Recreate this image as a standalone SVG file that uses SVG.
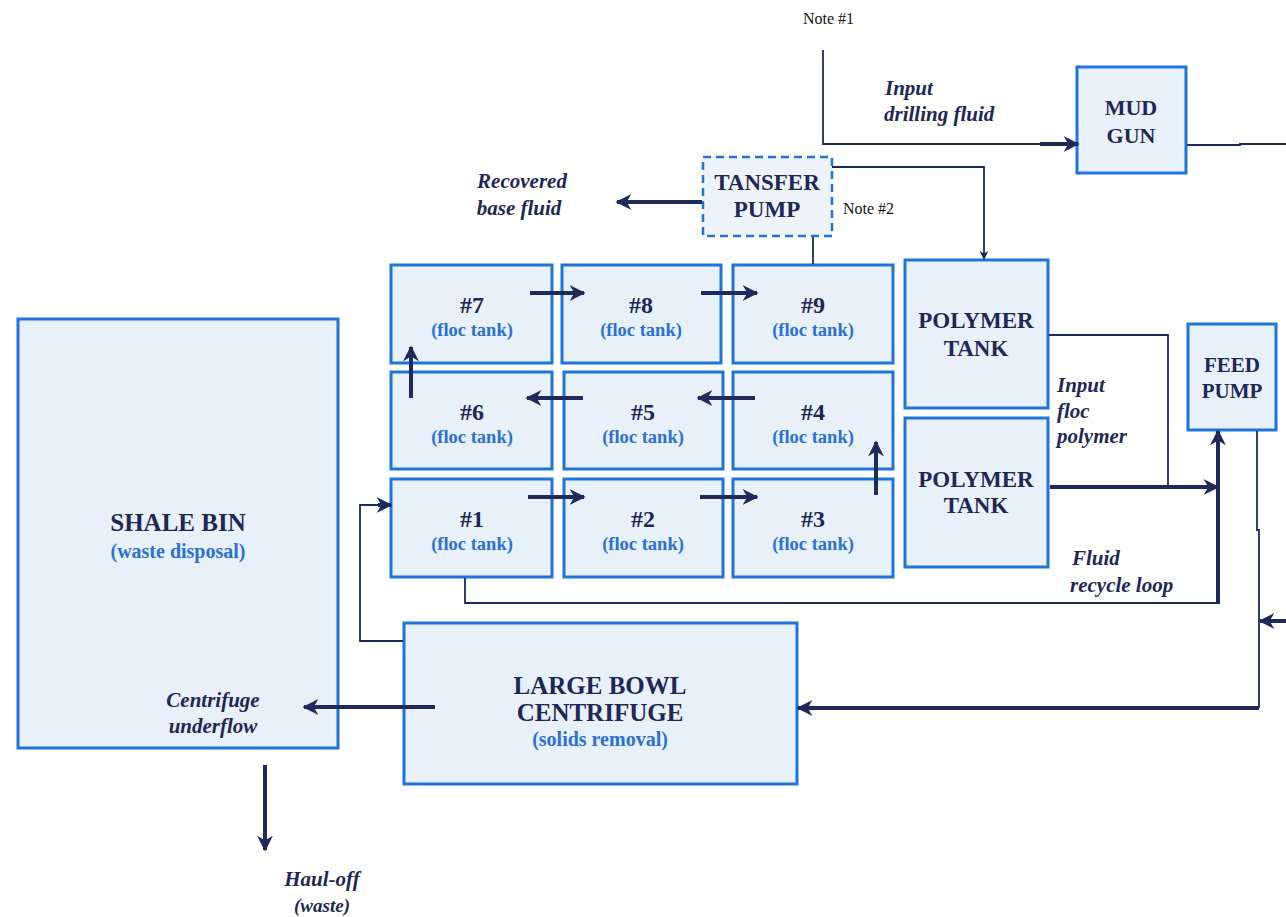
<svg xmlns="http://www.w3.org/2000/svg" width="1286" height="917" viewBox="0 0 1286 917">
<defs>
<marker id="ah" viewBox="0 0 10 10" refX="9" refY="5" markerWidth="4" markerHeight="4" orient="auto" markerUnits="strokeWidth"><path d="M0,0 L10,5 L0,10 L3,5 z" fill="#1f2a5a"/></marker>
<marker id="ahs" viewBox="0 0 10 10" refX="9" refY="5" markerWidth="9" markerHeight="9" orient="auto" markerUnits="userSpaceOnUse"><path d="M0,0 L10,5 L0,10 L3,5 z" fill="#1f2a5a"/></marker>
<style>
.box{fill:#e8f0f9;stroke:#1e74d8;stroke-width:3}
.dash{fill:#eef3fa;stroke:#1e74d8;stroke-width:2.5;stroke-dasharray:8 5}
.t{font-weight:bold;fill:#1e2755;text-anchor:middle}
.s{font-weight:bold;fill:#2b70d2;text-anchor:middle}
.i{font-weight:bold;font-style:italic;fill:#1e2755}
.n{fill:#111}
.thick{stroke:#1f2a5a;stroke-width:4;fill:none}
.thin{stroke:#1f2a5a;stroke-width:1.8;fill:none}
</style>
</defs>
<rect width="1286" height="917" fill="#ffffff"/>

<g id="shale-bin">
<rect class="box" x="18" y="319" width="320" height="429"/>
<text class="t" font-family="Liberation Serif" x="178" y="531" font-size="25">SHALE BIN</text>
<text class="s" font-family="Liberation Serif" x="178" y="558" font-size="20">(waste disposal)</text>
</g>

<g id="tank7"><rect class="box" x="391" y="265" width="161" height="98"/><text class="t" font-family="Liberation Serif" x="472" y="313" font-size="24">#7</text><text class="s" font-family="Liberation Serif" x="472" y="336" font-size="18.5">(floc tank)</text></g>
<g id="tank8"><rect class="box" x="562" y="265" width="159" height="98"/><text class="t" font-family="Liberation Serif" x="641" y="313" font-size="24">#8</text><text class="s" font-family="Liberation Serif" x="641" y="336" font-size="18.5">(floc tank)</text></g>
<g id="tank9"><rect class="box" x="733" y="265" width="160" height="98"/><text class="t" font-family="Liberation Serif" x="813" y="313" font-size="24">#9</text><text class="s" font-family="Liberation Serif" x="813" y="336" font-size="18.5">(floc tank)</text></g>
<g id="tank6"><rect class="box" x="391" y="372" width="161" height="97"/><text class="t" font-family="Liberation Serif" x="472" y="420" font-size="24">#6</text><text class="s" font-family="Liberation Serif" x="472" y="443" font-size="18.5">(floc tank)</text></g>
<g id="tank5"><rect class="box" x="564" y="372" width="159" height="97"/><text class="t" font-family="Liberation Serif" x="643" y="420" font-size="24">#5</text><text class="s" font-family="Liberation Serif" x="643" y="443" font-size="18.5">(floc tank)</text></g>
<g id="tank4"><rect class="box" x="733" y="372" width="160" height="97"/><text class="t" font-family="Liberation Serif" x="813" y="420" font-size="24">#4</text><text class="s" font-family="Liberation Serif" x="813" y="443" font-size="18.5">(floc tank)</text></g>
<g id="tank1"><rect class="box" x="391" y="479" width="161" height="98"/><text class="t" font-family="Liberation Serif" x="472" y="527" font-size="24">#1</text><text class="s" font-family="Liberation Serif" x="472" y="550" font-size="18.5">(floc tank)</text></g>
<g id="tank2"><rect class="box" x="564" y="479" width="159" height="98"/><text class="t" font-family="Liberation Serif" x="643" y="527" font-size="24">#2</text><text class="s" font-family="Liberation Serif" x="643" y="550" font-size="18.5">(floc tank)</text></g>
<g id="tank3"><rect class="box" x="733" y="479" width="160" height="98"/><text class="t" font-family="Liberation Serif" x="813" y="527" font-size="24">#3</text><text class="s" font-family="Liberation Serif" x="813" y="550" font-size="18.5">(floc tank)</text></g>

<g id="polymer-tank-1"><rect class="box" x="905" y="260" width="143" height="148"/><text class="t" font-family="Liberation Serif" x="976" y="328" font-size="23">POLYMER</text><text class="t" font-family="Liberation Serif" x="976" y="356" font-size="23">TANK</text></g>
<g id="polymer-tank-2"><rect class="box" x="905" y="418" width="143" height="149"/><text class="t" font-family="Liberation Serif" x="976" y="487" font-size="23">POLYMER</text><text class="t" font-family="Liberation Serif" x="976" y="513" font-size="23">TANK</text></g>

<g id="transfer-pump"><rect class="dash" x="703" y="157" width="129" height="79"/><text class="t" font-family="Liberation Serif" x="767" y="190" font-size="23">TANSFER</text><text class="t" font-family="Liberation Serif" x="767" y="217" font-size="23">PUMP</text></g>

<g id="mud-gun"><rect class="box" x="1077" y="67" width="109" height="106"/><text class="t" font-family="Liberation Serif" x="1131" y="115" font-size="22">MUD</text><text class="t" font-family="Liberation Serif" x="1131" y="143" font-size="22">GUN</text></g>

<g id="feed-pump"><rect class="box" x="1188" y="324" width="88" height="106"/><text class="t" font-family="Liberation Serif" x="1232" y="372" font-size="21">FEED</text><text class="t" font-family="Liberation Serif" x="1232" y="398" font-size="21">PUMP</text></g>

<g id="centrifuge"><rect class="box" x="404" y="623" width="393" height="161"/><text class="t" font-family="Liberation Serif" x="600" y="694" font-size="25">LARGE BOWL</text><text class="t" font-family="Liberation Serif" x="600" y="721" font-size="25">CENTRIFUGE</text><text class="s" font-family="Liberation Serif" x="600" y="746" font-size="20">(solids removal)</text></g>

<g id="connectors">
<line class="thick" x1="530" y1="293" x2="584" y2="293" marker-end="url(#ah)"/>
<line class="thick" x1="701" y1="293" x2="757" y2="293" marker-end="url(#ah)"/>
<line class="thick" x1="583" y1="398" x2="527" y2="398" marker-end="url(#ah)"/>
<line class="thick" x1="755" y1="398" x2="698" y2="398" marker-end="url(#ah)"/>
<line class="thick" x1="528" y1="497" x2="584" y2="497" marker-end="url(#ah)"/>
<line class="thick" x1="700" y1="497" x2="757" y2="497" marker-end="url(#ah)"/>
<line class="thick" x1="411" y1="398" x2="411" y2="347" marker-end="url(#ah)"/>
<line class="thick" x1="876" y1="495" x2="876" y2="442" marker-end="url(#ah)"/>
<line class="thin" x1="813" y1="237" x2="813" y2="264"/>
<line class="thick" x1="702" y1="202" x2="617" y2="202" marker-end="url(#ah)"/>
<polyline class="thin" points="832,167 984,167 984,259" marker-end="url(#ahs)"/>
<polyline class="thin" points="823,50 823,144 1040,144"/>
<line class="thick" x1="1040" y1="144" x2="1078" y2="144" marker-end="url(#ah)"/>
<polyline class="thin" points="1187,145 1240,145 1240,144 1286,144"/>
<polyline class="thin" points="1049,335 1168,335 1168,487"/>
<line class="thick" x1="1050" y1="487" x2="1218" y2="487" marker-end="url(#ah)"/>
<polyline class="thin" points="465,578 465,603 1218,603"/>
<line class="thick" x1="1218" y1="604" x2="1218" y2="431" marker-end="url(#ah)"/>
<polyline class="thin" points="1257,431 1257,530 1259,530 1259,708"/>
<line class="thick" x1="1259" y1="708" x2="798" y2="708" marker-end="url(#ah)"/>
<line class="thick" x1="1286" y1="621" x2="1260" y2="621" marker-end="url(#ah)"/>
<polyline class="thin" points="403,641 360,641 360,505 378,505"/>
<line class="thick" x1="378" y1="505" x2="391" y2="505" marker-end="url(#ah)"/>
<line class="thick" x1="435" y1="707" x2="304" y2="707" marker-end="url(#ah)"/>
<line class="thick" x1="265" y1="765" x2="265" y2="850" marker-end="url(#ah)"/>
</g>

<g id="labels">
<text class="n" font-family="Liberation Serif" x="803" y="24" font-size="16">Note #1</text>
<text class="n" font-family="Liberation Serif" x="843" y="214" font-size="16">Note #2</text>
<text class="i" font-family="Liberation Serif" x="885" y="95" font-size="21">Input</text>
<text class="i" font-family="Liberation Serif" x="884" y="121" font-size="21">drilling fluid</text>
<text class="i" font-family="Liberation Serif" x="522" y="188" font-size="21" text-anchor="middle">Recovered</text>
<text class="i" font-family="Liberation Serif" x="519" y="215" font-size="21" text-anchor="middle">base fluid</text>
<text class="i" font-family="Liberation Serif" x="1057" y="392" font-size="21">Input</text>
<text class="i" font-family="Liberation Serif" x="1057" y="418" font-size="21">floc</text>
<text class="i" font-family="Liberation Serif" x="1057" y="443" font-size="21">polymer</text>
<text class="i" font-family="Liberation Serif" x="1072" y="565" font-size="21">Fluid</text>
<text class="i" font-family="Liberation Serif" x="1070" y="592" font-size="21">recycle loop</text>
<text class="i" font-family="Liberation Serif" x="213" y="707" font-size="21" text-anchor="middle">Centrifuge</text>
<text class="i" font-family="Liberation Serif" x="213" y="733" font-size="21" text-anchor="middle">underflow</text>
<text class="i" font-family="Liberation Serif" x="322" y="886" font-size="21" text-anchor="middle">Haul-off</text>
<text class="i" font-family="Liberation Serif" x="322" y="912" font-size="19" text-anchor="middle">(waste)</text>
</g>
</svg>
